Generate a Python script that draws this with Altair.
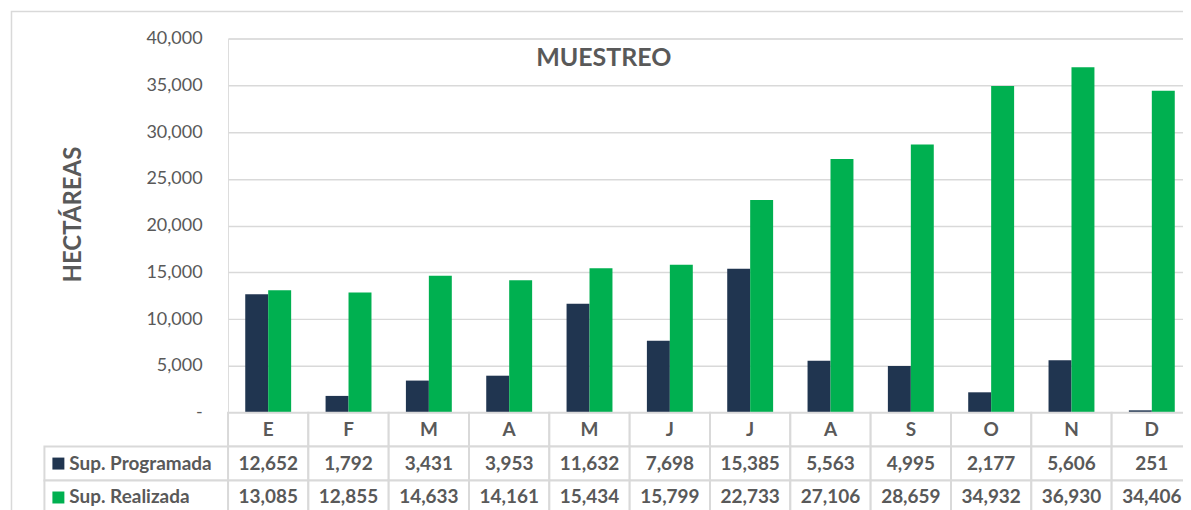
import altair as alt
import pandas as pd

# ---- data ----
months = ["E", "F", "M", "A", "M", "J", "J", "A", "S", "O", "N", "D"]
programada = [12652, 1792, 3431, 3953, 11632, 7698, 15385, 5563, 4995, 2177, 5606, 251]
realizada = [13085, 12855, 14633, 14161, 15434, 15799, 22733, 27106, 28659, 34932, 36930, 34406]
series = ["Sup. Programada", "Sup. Realizada"]
colors = ["#203550", "#00B050"]
y_ticks = [0, 5000, 10000, 15000, 20000, 25000, 30000, 35000, 40000]
chart_title = "MUESTREO"
y_title = "HECTÁREAS"
row_keys = ["hdr", "p", "r"]

GRAY = "#595959"
LINE = "#D9D9D9"
FONT = "Lato"

idx = list(range(len(months)))
bars_df = pd.DataFrame({
    "idx": idx * 2,
    "mes": months * 2,
    "serie": [series[0]] * len(months) + [series[1]] * len(months),
    "valor": programada + realizada,
})

color_scale = alt.Scale(domain=series, range=colors)
x_enc = alt.X("idx:O", scale=alt.Scale(paddingInner=0, paddingOuter=0), axis=None)

bars = alt.Chart(bars_df).mark_bar().encode(
    x=x_enc,
    xOffset=alt.XOffset("serie:N", sort=series,
                        scale=alt.Scale(paddingInner=0, paddingOuter=0.75)),
    y=alt.Y("valor:Q",
            scale=alt.Scale(domain=[0, 40000], nice=False),
            axis=alt.Axis(values=y_ticks,
                          labelExpr="datum.value == 0 ? '-\u00a0\u00a0' : format(datum.value, ',')",
                          domain=False, ticks=False, labelPadding=26,
                          labelFontSize=18, labelColor=GRAY, labelFont=FONT,
                          grid=True, gridColor=LINE, gridWidth=1.5,
                          title=y_title, titleFontSize=24, titleFontWeight="bold",
                          titleColor=GRAY, titleFont=FONT, titleAngle=270,
                          titleX=-148, titleY=176, titleAlign="center",
                          titleBaseline="alphabetic")),
    color=alt.Color("serie:N", scale=color_scale, legend=None),
)

frame = alt.Chart(alt.Data(values=[{"k": 1}])).mark_rect(
    fillOpacity=0, stroke=LINE, strokeWidth=1.5
).encode(x=alt.value(-217), x2=alt.value(980), y=alt.value(-27), y2=alt.value(490))

title_mark = alt.Chart(alt.Data(values=[{"t": chart_title}])).mark_text(
    fontSize=25, fontWeight="bold", color=GRAY, font=FONT, baseline="alphabetic", align="center"
).encode(x=alt.value(376.5), y=alt.value(28), text="t:N")

top = alt.layer(frame, bars, title_mark).properties(width=966, height=375)

# ---- data table ----
hdr_df = pd.DataFrame({"idx": idx, "row": "hdr", "txt": months})
val_df = pd.DataFrame({
    "idx": idx * 2,
    "row": ["p"] * len(months) + ["r"] * len(months),
    "valor": programada + realizada,
})
cells_df = pd.DataFrame({"idx": idx * 3, "row": ["hdr"] * 12 + ["p"] * 12 + ["r"] * 12})
lab_df = pd.DataFrame({"row": ["p", "r"], "serie": series})

y_row = alt.Y("row:N", sort=row_keys, scale=alt.Scale(domain=row_keys, paddingInner=0, paddingOuter=0), axis=None)

cells = alt.Chart(cells_df).mark_rect(fill="white", stroke=LINE, strokeWidth=2).encode(x=x_enc, y=y_row)
hdr_txt = alt.Chart(hdr_df).mark_text(fontSize=19, fontWeight="bold", color=GRAY, font=FONT).encode(
    x=x_enc, y=y_row, text="txt:N")
val_txt = alt.Chart(val_df).mark_text(fontSize=19, fontWeight="bold", color=GRAY, font=FONT).encode(
    x=x_enc, y=y_row, text=alt.Text("valor:Q", format=","))
lab_cells = alt.Chart(lab_df).mark_rect(fill="white", stroke=LINE, strokeWidth=2).encode(
    x=alt.value(-184), x2=alt.value(0), y=y_row)
squares = alt.Chart(lab_df).mark_square(size=144, opacity=1).encode(
    x=alt.value(-170), y=y_row, color=alt.Color("serie:N", scale=color_scale, legend=None))
lab_txt = alt.Chart(lab_df).mark_text(fontSize=19, fontWeight="bold", color=GRAY, font=FONT, align="left").encode(
    x=alt.value(-159), y=y_row, text="serie:N")

table = alt.layer(cells, hdr_txt, val_txt, lab_cells, squares, lab_txt).properties(width=966, height=102)

chart = alt.vconcat(top, table, spacing=0, bounds="flush").properties(
    padding={"left": 1.5, "top": 1, "right": -25, "bottom": -17.5}
).configure_view(stroke=None).configure(font=FONT)

chart.save("out.html", embed_options={"renderer": "svg", "actions": False})
